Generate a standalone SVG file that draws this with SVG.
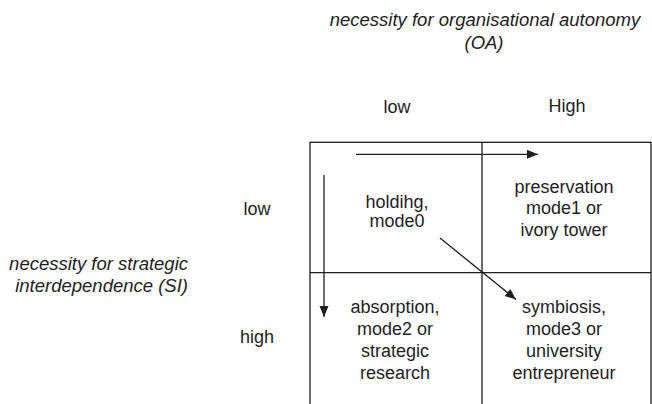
<svg xmlns="http://www.w3.org/2000/svg" width="652" height="404" viewBox="0 0 652 404">
  <style>
    text { font-family: "Liberation Sans", Arial, Helvetica, sans-serif; font-size: 18px; fill: #1e1e1e; text-anchor: middle; }
    .axis { font-style: italic; font-size: 18.5px; }
    .grid { fill: none; stroke: #1e1e1e; stroke-width: 1.3; }
    .conn { fill: none; stroke: #1e1e1e; stroke-width: 1.3; }
  </style>
  <defs>
    <marker id="arrow" markerUnits="userSpaceOnUse" markerWidth="12" markerHeight="10" refX="11" refY="4.5" orient="auto">
      <path d="M0,0 L11,4.5 L0,9 Z" fill="#1e1e1e"/>
    </marker>
  </defs>
  <rect width="652" height="404" fill="#ffffff"/>

  <!-- axis titles -->
  <g id="axis-oa">
    <text class="axis" x="485" y="26">necessity for organisational autonomy</text>
    <text class="axis" x="484" y="48.5">(OA)</text>
  </g>
  <g id="axis-si">
    <text class="axis" x="188" y="270" style="text-anchor:end">necessity for strategic</text>
    <text class="axis" x="188" y="292" style="text-anchor:end">interdependence (SI)</text>
  </g>

  <!-- level labels -->
  <g id="col-low"><text x="397" y="112.5">low</text></g>
  <g id="col-high"><text x="567" y="111.5">High</text></g>
  <g id="row-low"><text x="257" y="215">low</text></g>
  <g id="row-high"><text x="257" y="343">high</text></g>

  <!-- matrix grid -->
  <g id="grid" class="grid">
    <rect x="310" y="142.3" width="341" height="280"/>
    <line x1="482" y1="142.3" x2="482" y2="404"/>
    <line x1="310" y1="272.7" x2="651" y2="272.7"/>
  </g>

  <!-- quadrants -->
  <g id="mode0">
    <text x="397" y="207.5">holdihg,</text>
    <text x="397" y="227">mode0</text>
  </g>
  <g id="mode1">
    <text x="564" y="193">preservation</text>
    <text x="564" y="214">mode1 or</text>
    <text x="564" y="235.5">ivory tower</text>
  </g>
  <g id="mode2">
    <text x="395" y="313">absorption,</text>
    <text x="395" y="335">mode2 or</text>
    <text x="395" y="357">strategic</text>
    <text x="395" y="379">research</text>
  </g>
  <g id="mode3">
    <text x="564" y="313">symbiosis,</text>
    <text x="564" y="335">mode3 or</text>
    <text x="564" y="357">university</text>
    <text x="564" y="379">entrepreneur</text>
  </g>

  <!-- transition arrows -->
  <g id="connectors" class="conn">
    <line x1="356" y1="154.3" x2="538" y2="154.3" marker-end="url(#arrow)"/>
    <line x1="324" y1="175" x2="324" y2="317" marker-end="url(#arrow)"/>
    <line x1="440" y1="238" x2="516" y2="299.5" marker-end="url(#arrow)"/>
  </g>
</svg>
